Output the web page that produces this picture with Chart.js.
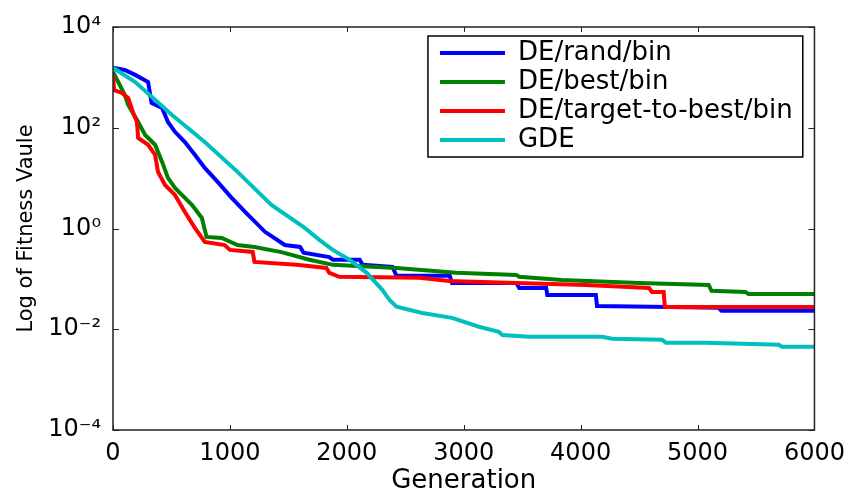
<!DOCTYPE html>
<html>
<head>
<meta charset="utf-8">
<script src="https://cdn.jsdelivr.net/npm/chart.js@4.4.1/dist/chart.umd.min.js"></script>
<style>
  html, body { margin: 0; padding: 0; background: #fff; }
  #wrap { width: 854px; height: 488px; }
</style>
</head>
<body>
<div id="wrap"><canvas id="fitness"></canvas></div>
<script>
// series names / colours (legend order)
const seriesNames = ['DE/rand/bin', 'DE/best/bin', 'DE/target-to-best/bin', 'GDE'];
const seriesColors = ['#0000ff', '#008000', '#ff0000', '#00bfbf'];

// DE/rand/bin
const genRand = [0, 100, 190, 300, 330, 420, 470, 530, 615, 700, 785, 895, 1015, 1130, 1300, 1470, 1600, 1630, 1850, 1880, 2110, 2135, 2390, 2425, 2880, 2900, 3450, 3475, 3705, 3715, 4130, 4140, 4610, 5180, 5205, 6000];
const fitRand = [1550, 1400, 1120, 810, 310, 247, 130, 83, 52, 29, 15.9, 8.4, 4.05, 2.13, 0.86, 0.47, 0.43, 0.33, 0.27, 0.24, 0.24, 0.19, 0.173, 0.115, 0.115, 0.083, 0.083, 0.066, 0.066, 0.048, 0.048, 0.029, 0.028, 0.0266, 0.0232, 0.0232];

// DE/best/bin
const genBest = [0, 45, 100, 130, 215, 275, 360, 420, 470, 530, 675, 760, 800, 930, 1065, 1210, 1440, 1680, 1880, 2425, 2935, 3450, 3475, 3840, 4500, 5095, 5120, 5410, 5435, 6000];
const fitBest = [1280, 810, 450, 283, 130, 72, 46, 21, 10.1, 6.4, 2.94, 1.62, 0.68, 0.65, 0.47, 0.43, 0.34, 0.24, 0.19, 0.165, 0.132, 0.12, 0.11, 0.095, 0.083, 0.076, 0.058, 0.055, 0.05, 0.05];

// DE/target-to-best/bin
const genTtb = [0, 10, 75, 130, 170, 205, 215, 300, 360, 385, 445, 530, 615, 700, 785, 955, 1000, 1195, 1210, 1570, 1825, 1850, 1935, 2620, 2875, 3450, 4045, 4585, 4610, 4710, 4720, 6000];
const fitTtb = [1120, 560, 490, 390, 206, 130, 63, 46, 29, 13.3, 7.3, 4.64, 2.13, 1.03, 0.54, 0.47, 0.376, 0.343, 0.217, 0.19, 0.165, 0.132, 0.11, 0.105, 0.091, 0.083, 0.076, 0.066, 0.055, 0.055, 0.0278, 0.0278];

// GDE
const genGde = [0, 190, 505, 785, 1065, 1355, 1640, 1765, 1880, 2025, 2170, 2305, 2365, 2425, 2645, 2900, 3130, 3300, 3330, 3560, 4180, 4270, 4695, 4730, 5070, 5695, 5720, 6000];
const fitGde = [1550, 810, 179, 52, 13.3, 2.94, 1.03, 0.594, 0.376, 0.238, 0.132, 0.06, 0.038, 0.028, 0.021, 0.0168, 0.0112, 0.0089, 0.0077, 0.0071, 0.0071, 0.0065, 0.0062, 0.0054, 0.0054, 0.0049, 0.0045, 0.0045];

// axes
const xTicks = [0, 1000, 2000, 3000, 4000, 5000, 6000];
const xTickLabels = ['0', '1000', '2000', '3000', '4000', '5000', '6000'];
const yTicks = [1e-4, 1e-2, 1, 1e2, 1e4];
const yTickLabels = ['10\u207B\u2074', '10\u207B\u00B2', '10\u2070', '10\u00B2', '10\u2074'];

const FONT = "'DejaVu Sans', sans-serif";

function pairs(xs, ys) {
  return xs.map((x, i) => ({x: x, y: ys[i]}));
}

const allSeries = [[genRand, fitRand], [genBest, fitBest], [genTtb, fitTtb], [genGde, fitGde]];
const datasets = allSeries.map((s, i) => ({
  label: seriesNames[i],
  data: pairs(s[0], s[1]),
  borderColor: seriesColors[i],
  backgroundColor: seriesColors[i],
  borderWidth: 4,
  pointRadius: 0,
  tension: 0,
  fill: false,
  order: 3 - i   // later series on top, like matlab
}));

// box round the plot with small inward ticks
const frameTicks = {
  id: 'frameTicks',
  afterDraw(chart) {
    const {ctx, chartArea: a, scales: {x, y}} = chart;
    ctx.save();
    ctx.strokeStyle = '#222';
    ctx.lineWidth = 1.5;
    ctx.strokeRect(a.left, a.top, a.right - a.left, a.bottom - a.top);
    ctx.lineWidth = 1;
    ctx.beginPath();
    x.ticks.forEach(t => {
      const px = Math.round(x.getPixelForValue(t.value)) + 0.5;
      ctx.moveTo(px, a.bottom); ctx.lineTo(px, a.bottom - 5);
      ctx.moveTo(px, a.top); ctx.lineTo(px, a.top + 5);
    });
    y.ticks.forEach(t => {
      const py = Math.round(y.getPixelForValue(t.value)) + 0.5;
      ctx.moveTo(a.left, py); ctx.lineTo(a.left + 6, py);
      ctx.moveTo(a.right, py); ctx.lineTo(a.right - 6, py);
    });
    ctx.stroke();

    // legend border from the legend's own hit boxes
    const boxes = chart.legend.legendHitBoxes;
    if (boxes && boxes.length) {
      const l = Math.min(...boxes.map(b => b.left)) - 12;
      const r = Math.max(...boxes.map(b => b.left + b.width)) + 10;
      const t = Math.min(...boxes.map(b => b.top)) - 4;
      const btm = Math.max(...boxes.map(b => b.top + b.height)) + 4;
      ctx.strokeStyle = '#000';
      ctx.lineWidth = 1.5;
      ctx.strokeRect(l, t, r - l, btm - t);
    }
    ctx.restore();
  }
};

// put the legend in the upper right corner inside the plot
const legendSpot = {
  id: 'legendSpot',
  afterLayout(chart) {
    const lg = chart.legend, a = chart.chartArea;
    lg.left = a.right - 377.5;
    lg.right = lg.left + lg.width;
    lg.top = a.top + 10;
  }
};

new Chart(document.getElementById('fitness'), {
  type: 'line',
  data: {datasets: datasets},
  plugins: [legendSpot, frameTicks],
  options: {
    responsive: true,
    maintainAspectRatio: false,
    animation: false,
    layout: {padding: {left: 0, right: 38, top: 27, bottom: 0}},
    plugins: {
      tooltip: {enabled: false},
      legend: {
        position: 'chartArea',
        align: 'start',
        labels: {
          font: {family: FONT, size: 26},
          color: '#000',
          usePointStyle: true,
          pointStyle: 'line',
          pointStyleWidth: 65,
          padding: 3,
          sort: (a, b) => a.datasetIndex - b.datasetIndex
        }
      }
    },
    scales: {
      x: {
        type: 'linear',
        min: 0,
        max: 6000,
        afterBuildTicks: s => { s.ticks = xTicks.map(v => ({value: v})); },
        afterFit: s => { s.height = 58; },
        grid: {display: false, drawTicks: false},
        border: {display: false},
        ticks: {
          font: {family: FONT, size: 24},
          color: '#000',
          padding: 9,
          autoSkip: false,
          maxRotation: 0,
          callback: (v, i) => xTickLabels[i]
        },
        title: {
          display: true,
          text: 'Generation',
          font: {family: FONT, size: 26},
          color: '#000',
          padding: {top: 0, bottom: -9}
        }
      },
      y: {
        type: 'logarithmic',
        min: 1e-4,
        max: 1e4,
        afterBuildTicks: s => { s.ticks = yTicks.map(v => ({value: v})); },
        afterFit: s => { s.width = 113; },
        grid: {display: false, drawTicks: false},
        border: {display: false},
        ticks: {
          font: {family: FONT, size: 24},
          color: '#000',
          padding: 12,
          autoSkip: false,
          callback: (v, i) => yTickLabels[i]
        },
        title: {
          display: true,
          text: 'Log of Fitness Vaule',
          font: {family: FONT, size: 21},
          color: '#000',
          padding: {top: 14, bottom: 0}
        }
      }
    }
  }
});
</script>
</body>
</html>
